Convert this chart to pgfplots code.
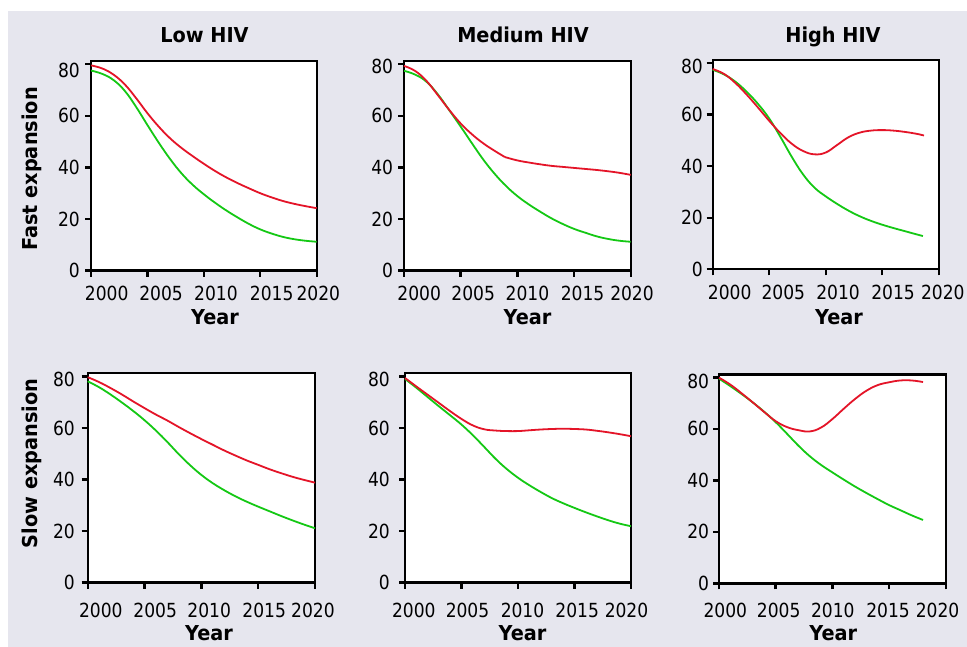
\documentclass[border=0pt]{standalone}
\usepackage{fontspec}
\setmainfont[FakeStretch=0.88]{DejaVu Sans}
\newfontfamily\bfam[FakeStretch=0.94]{DejaVu Sans}
\usepackage{pgfplots}
\pgfplotsset{compat=1.18}
\definecolor{bg}{RGB}{230,230,238}
\definecolor{cred}{RGB}{228,20,40}
\definecolor{cgreen}{RGB}{20,200,20}
\newcommand{\sx}[2]{\makebox[0pt]{\hspace*{#1}#2}}
\newcommand{\lw}[2]{\raisebox{0pt}[\dimexpr\height+#1\relax]{#2}}
\newcommand{\tfont}{\fontsize{19.5}{19.5}\selectfont}
\newcommand{\lfont}{\bfam\bfseries\fontsize{20.6}{20.6}\selectfont}
\pgfplotsset{
  panel/.style={
    scale only axis, anchor=south west,
    xmin=2000, xmax=2020, ymin=0, ymax=81.2,
    axis background/.style={fill=white},
    axis line style={black, line width=2.4bp},
    tick align=outside, tick pos=left,
    major tick length=6bp,
    tick style={black, line width=2.4bp},
    xtick={2000,2005,2010,2015,2020},
    ytick={0,20,40,60,80},
    ticklabel style={font=\tfont, text=black},
    yticklabel style={anchor=east, inner sep=0pt},
    xticklabel style={anchor=base, inner sep=0pt},
    clip=false,
  },
  rl/.style={cred, line width=1.8bp, smooth, tension=0.7},
  gl/.style={cgreen, line width=1.8bp, smooth, tension=0.7},
}
\begin{document}
\begin{tikzpicture}
\useasboundingbox (0,0) rectangle (967bp,647bp);
\fill[bg] (8bp,0) rectangle (967bp,636bp);

% ---------- Panel 1: Low HIV, Fast
\begin{axis}[panel, at={(91bp,376.3bp)}, width=225.7bp, height=209.7bp,
  yticklabels={0,20,40,60,\lw{12bp}{80}},
  yticklabel style={xshift=-5bp},
  xticklabel style={yshift=-24bp},
  xticklabels={\sx{31.4bp}{2000},\sx{27.2bp}{2005},\sx{24.2bp}{2010},\sx{22.8bp}{2015},\sx{3.2bp}{2020}}]
\addplot[gl] coordinates {(2000,77.5)(2001,76.2)(2002,73.8)(2003,69.6)(2004,63.4)(2005,56.4)(2006,49.6)(2007,43.3)(2008,37.8)(2009,33.3)(2010,29.6)(2011,26.3)(2012,23.3)(2013,20.6)(2014,18.1)(2015,16.0)(2016,14.4)(2017,13.1)(2018,12.2)(2019,11.6)(2020,11.2)};
\addplot[rl] coordinates {(2000,79.5)(2001,78.3)(2002,75.9)(2003,72.1)(2004,66.8)(2005,61.0)(2006,55.8)(2007,51.3)(2008,47.6)(2009,44.4)(2010,41.4)(2011,38.6)(2012,36.1)(2013,33.9)(2014,31.9)(2015,30.0)(2016,28.4)(2017,27.0)(2018,25.9)(2019,25.0)(2020,24.2)};
\end{axis}

% ---------- Panel 2: Medium HIV, Fast
\begin{axis}[panel, at={(404bp,376.3bp)}, width=226.7bp, height=209.7bp,
  yticklabels={0,20,40,60,\lw{4bp}{80}},
  yticklabel style={xshift=-4.7bp},
  xticklabel style={yshift=-24bp},
  xticklabels={\sx{30.4bp}{2000},\sx{25bp}{2005},\sx{20.2bp}{2010},\sx{17bp}{2015},\sx{2.6bp}{2020}}]
\addplot[gl] coordinates {(2000,77.4)(2001,75.9)(2002,73.1)(2003,68.2)(2004,62.1)(2005,55.8)(2006,49.3)(2007,43.0)(2008,37.5)(2009,32.8)(2010,28.9)(2011,25.7)(2012,22.9)(2013,20.3)(2014,18.1)(2015,16.2)(2016,14.7)(2017,13.3)(2018,12.3)(2019,11.6)(2020,11.2)};
\addplot[rl] coordinates {(2000,79.3)(2001,77.3)(2002,73.4)(2003,67.9)(2004,62.2)(2005,57.0)(2006,52.8)(2007,49.3)(2008,46.4)(2008.9,44.0)};
\addplot[rl] coordinates {(2008.9,44.0)(2010,42.7)(2011,41.9)(2012,41.2)(2013,40.6)(2014,40.2)(2015,39.8)(2016,39.4)(2017,39.0)(2018,38.5)(2019,37.9)(2020,37.1)};
\end{axis}

% ---------- Panel 3: High HIV, Fast
\begin{axis}[panel, at={(712.7bp,377.7bp)}, width=226bp, height=209.3bp,
  yticklabels={0,20,40,60,\lw{6bp}{80}},
  yticklabel style={xshift=-3.7bp},
  xticklabel style={yshift=-24bp},
  xticklabels={\sx{34bp}{2000},\sx{28.2bp}{2005},\sx{24.6bp}{2010},\sx{21.6bp}{2015},\sx{8.2bp}{2020}}]
\addplot[gl] coordinates {(2000,77.4)(2001,75.6)(2002,72.8)(2003,68.9)(2004,64.2)(2005,58.5)(2006,51.3)(2007,43.6)(2008,36.8)(2009,31.7)(2010,28.3)(2011,25.4)(2012,22.8)(2013,20.6)(2014,18.8)(2015,17.3)(2016,16.0)(2017,14.8)(2018,13.6)(2018.6,12.9)};
\addplot[rl] coordinates {(2000,77.7)(2001,75.8)(2002,72.3)(2003,67.8)(2004,62.8)(2005,57.6)(2006,52.8)(2007,48.7)(2008,45.9)(2009,44.6)(2010,45.3)(2011,48.2)(2012,51.2)(2013,53.0)(2014,53.8)(2015,54.0)(2016,53.8)(2017,53.3)(2018,52.6)(2018.7,51.9)};
\end{axis}

% ---------- Panel 4: Low HIV, Slow
\begin{axis}[panel, at={(87.7bp,64.3bp)}, width=227.3bp, height=209.4bp,
  yticklabels={0,20,40,60,\lw{6bp}{80}},
  yticklabel style={xshift=-6.7bp},
  xticklabel style={yshift=-28.3bp},
  xticklabels={\sx{26.2bp}{2000},\sx{21.4bp}{2005},\sx{15.6bp}{2010},\sx{12bp}{2015},\sx{-4bp}{2020}}]
\addplot[gl] coordinates {(2000,78.1)(2001,75.8)(2002,73.0)(2003,69.9)(2004,66.6)(2005,63.0)(2006,59.0)(2007,54.6)(2008,49.9)(2009,45.6)(2010,41.8)(2011,38.6)(2012,35.9)(2013,33.5)(2014,31.4)(2015,29.5)(2016,27.7)(2017,25.9)(2018,24.2)(2019,22.6)(2020,21.1)};
\addplot[rl] coordinates {(2000,79.7)(2001,77.8)(2002,75.5)(2003,73.0)(2004,70.3)(2005,67.7)(2006,65.2)(2007,62.9)(2008,60.4)(2009,58.0)(2010,55.7)(2011,53.5)(2012,51.3)(2013,49.3)(2014,47.4)(2015,45.7)(2016,44.0)(2017,42.5)(2018,41.1)(2019,39.9)(2020,38.8)};
\end{axis}

% ---------- Panel 5: Medium HIV, Slow
\begin{axis}[panel, at={(405bp,64.3bp)}, width=226bp, height=209.4bp,
  yticklabels={0,20,40,60,\lw{7bp}{80}},
  yticklabel style={xshift=-9bp},
  xticklabel style={yshift=-28.3bp},
  xticklabels={\sx{17.6bp}{2000},\sx{12bp}{2005},\sx{9bp}{2010},\sx{5.4bp}{2015},\sx{-9bp}{2020}}]
\addplot[gl] coordinates {(2000,79.0)(2001,75.6)(2002,72.0)(2003,68.4)(2004,64.9)(2005,61.3)(2006,57.2)(2007,52.7)(2008,48.1)(2009,44.1)(2010,40.7)(2011,37.8)(2012,35.2)(2013,32.8)(2014,30.8)(2015,29.0)(2016,27.3)(2017,25.7)(2018,24.2)(2019,22.9)(2020,21.9)};
\addplot[rl] coordinates {(2000,79.4)(2001,76.1)(2002,72.9)(2003,69.7)(2004,66.5)(2005,63.5)(2006,61.0)(2007,59.5)(2008,59.0)(2009,58.8)(2010,58.8)(2011,59.1)(2012,59.4)(2013,59.6)(2014,59.7)(2015,59.6)(2016,59.4)(2017,58.9)(2018,58.3)(2019,57.6)(2020,56.8)};
\end{axis}

% ---------- Panel 6: High HIV, Slow
\begin{axis}[panel, at={(719bp,63.7bp)}, width=226.7bp, height=209bp,
  yticklabels={0,20,40,60,\lw{8bp}{80}},
  yticklabel style={xshift=-3.7bp},
  xticklabel style={yshift=-28.3bp},
  xticklabels={\sx{12.6bp}{2000},\sx{6bp}{2005},\sx{0.8bp}{2010},\sx{-2bp}{2015},\sx{-16.4bp}{2020}}]
\addplot[gl] coordinates {(2000,79.5)(2001,76.6)(2002,73.5)(2003,70.2)(2004,66.6)(2005,62.6)(2006,58.1)(2007,53.5)(2008,49.4)(2009,46.0)(2010,43.1)(2011,40.3)(2012,37.6)(2013,35.1)(2014,32.7)(2015,30.4)(2016,28.4)(2017,26.4)(2018,24.6)};
\addplot[rl] coordinates {(2000,79.9)(2001,77.2)(2002,73.8)(2003,70.2)(2004,66.5)(2005,63.0)(2006,60.7)(2007,59.5)(2008,59.0)(2009,60.5)(2010,63.8)(2011,67.8)(2012,71.6)(2013,74.8)(2014,77.0)(2015,78.1)(2016,78.8)(2017,78.8)(2018,78.2)};
\end{axis}

% ---------- titles and labels
\node[anchor=base, inner sep=0pt, font=\lfont] at (204.5bp,604bp) {Low HIV};
\node[anchor=base, inner sep=0pt, font=\lfont] at (523bp,604bp) {Medium HIV};
\node[anchor=base, inner sep=0pt, font=\lfont] at (833bp,604bp) {High HIV};
\node[anchor=base, inner sep=0pt, font=\lfont, rotate=90] at (37.5bp,478bp) {Fast expansion};
\node[anchor=base, inner sep=0pt, font=\lfont, rotate=90] at (37.5bp,183.7bp) {Slow expansion};
\node[anchor=base, inner sep=0pt, font=\lfont] at (215bp,322bp) {Year};
\node[anchor=base, inner sep=0pt, font=\lfont] at (527.5bp,322bp) {Year};
\node[anchor=base, inner sep=0pt, font=\lfont] at (839bp,322bp) {Year};
\node[anchor=base, inner sep=0pt, font=\lfont] at (209bp,7bp) {Year};
\node[anchor=base, inner sep=0pt, font=\lfont] at (522.5bp,7bp) {Year};
\node[anchor=base, inner sep=0pt, font=\lfont] at (833.3bp,7bp) {Year};
\end{tikzpicture}
\end{document}
